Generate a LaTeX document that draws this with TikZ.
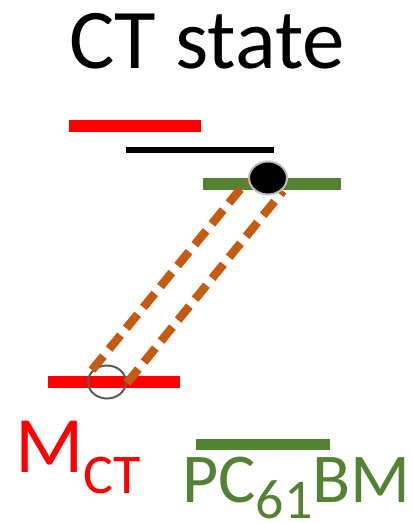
\documentclass[tikz,border=0pt]{standalone}
\usepackage{fontspec}
\setmainfont{Carlito}
\usetikzlibrary{shapes.geometric}
\definecolor{myred}{HTML}{FF0000}
\definecolor{mygreen}{HTML}{548235}
\definecolor{myorange}{HTML}{C55A11}
\definecolor{lgray}{HTML}{BFBFBF}
\definecolor{dgray}{HTML}{595959}
\begin{document}
\begin{tikzpicture}[x=1pt,y=-1pt,
  bar/.style={line width=12pt},
  trans/.style={myorange,line width=8.5pt,dash pattern=on 18pt off 9pt},
  txt/.style={inner sep=0pt,anchor=base west}]
\useasboundingbox (0,0) rectangle (413,523);
% title
\node[inner sep=0pt,anchor=base] (title) at (207,68) {\fontsize{85}{85}\selectfont CT state};
% levels
\draw[bar,myred] (69,126) -- (201,126);
\draw[line width=6pt,black] (126,150) -- (274,150);
\draw[bar,mygreen] (203,184) -- (341,184);
\draw[bar,myred] (48,382) -- (180,382);
\draw[line width=11pt,mygreen] (196,444.5) -- (330,444.5);
% hole
\node[draw=dgray,line width=2pt,ellipse,minimum width=38pt,minimum height=33pt,inner sep=0pt] (hole) at (107,382) {};
% dashed transfer
\coordinate (a1) at (92,370);
\coordinate (a2) at (247,181);
\coordinate (b1) at (127,383);
\coordinate (b2) at (283,191);
\draw[trans] (a1) -- (a2);
\draw[trans] (b1) -- (b2);
% electron
\node[draw=lgray,fill=black,line width=2pt,ellipse,minimum width=38pt,minimum height=33pt,inner sep=0pt] (elec) at (268,178) {};
% labels
\node[txt,myred] (mct) at (15,472) {\fontsize{80}{80}\selectfont M\raisebox{-21pt}{\fontsize{56}{56}\selectfont CT}};
\node[txt,mygreen] (pcbm) at (182,502) {\fontsize{70}{70}\selectfont PC\smash{\raisebox{-16pt}{\fontsize{56}{56}\selectfont 61}}BM};
\end{tikzpicture}
\end{document}
